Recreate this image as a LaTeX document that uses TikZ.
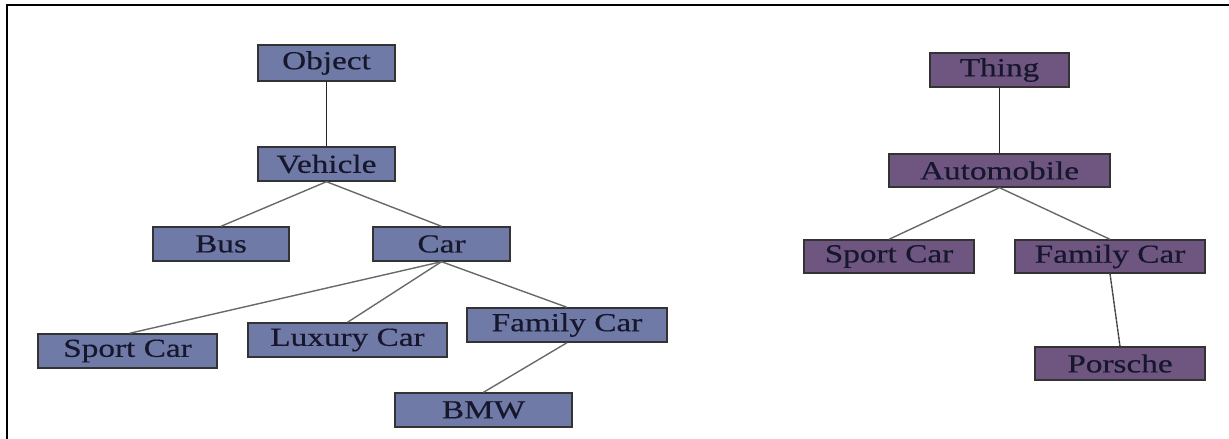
\documentclass[tikz,border=0pt]{standalone}
\usepackage{fontspec}
\setmainfont{Liberation Serif}
\newfontfamily\boxfont[FakeBold=0.35]{Liberation Serif}
\usepackage{graphicx}
\definecolor{slateblue}{RGB}{112,122,166}
\definecolor{plum}{RGB}{110,86,128}
\definecolor{inkdark}{RGB}{22,22,45}
\definecolor{edgegray}{RGB}{105,105,105}
\newcommand{\wide}[1]{\raisebox{-2pt}{\scalebox{1.28}[1]{#1}}}
\tikzset{
  box/.style={draw=black!80, line width=1.4pt, text=inkdark, inner sep=0pt,
    minimum height=34pt, font=\boxfont\fontsize{26}{30}\selectfont},
  bluebox/.style={box, fill=slateblue},
  plumbox/.style={box, fill=plum},
  link/.style={draw=edgegray, line width=1.4pt},
  trunk/.style={draw=black!85, line width=1.8pt},
  frame/.style={draw=black, line width=2pt}
}
\begin{document}
\begin{tikzpicture}[x=1pt,y=-1pt]
\useasboundingbox (0,0) rectangle (1229,439);
% outer frame: top and left sides only
\coordinate (fa) at (7,5);
\coordinate (fb) at (1229,5);
\coordinate (fc) at (7,439);
\draw[frame] (fb) -- (fa) -- (fc);

% left hierarchy
\node[bluebox, minimum width=137pt, minimum height=36pt] (object) at (326.5,63) {\wide{Object}};
\node[bluebox, minimum width=137pt] (vehicle) at (326.5,164) {\wide{Vehicle}};
\node[bluebox, minimum width=136pt] (bus) at (221,244) {\wide{Bus}};
\node[bluebox, minimum width=137pt] (car) at (441.5,244) {\wide{Car}};
\node[bluebox, minimum width=179pt] (sportl) at (127.5,351) {\wide{Sport Car}};
\node[bluebox, minimum width=199pt] (luxury) at (347.5,340) {\wide{Luxury Car}};
\node[bluebox, minimum width=200pt] (familyl) at (567,325) {\wide{Family Car}};
\node[bluebox, minimum width=177pt] (bmw) at (483.5,410) {\wide{BMW}};

\draw[trunk] (object.south) -- (vehicle.north);
\draw[link] (vehicle.south) -- (bus.north);
\draw[link] (vehicle.south) -- (car.north);
\draw[link] (car.south) -- ([xshift=2pt]sportl.north);
\draw[link] (car.south) -- (luxury.north);
\draw[link] (car.south) -- (familyl.north);
\draw[link] (familyl.south) -- (bmw.north);

% right hierarchy
\node[plumbox, minimum width=139pt] (thing) at (999.5,70) {\wide{Thing}};
\node[plumbox, minimum width=221pt, minimum height=33pt] (automobile) at (999.5,170.5) {\wide{Automobile}};
\node[plumbox, minimum width=170pt, minimum height=33pt] (sportr) at (889,256.5) {\wide{Sport Car}};
\node[plumbox, minimum width=190pt, minimum height=33pt] (familyr) at (1110,256.5) {\wide{Family Car}};
\node[plumbox, minimum width=170pt, minimum height=33pt] (porsche) at (1120,363.5) {\wide{Porsche}};

\draw[trunk] (thing.south) -- (automobile.north);
\draw[link] (automobile.south) -- (sportr.north);
\draw[link] (automobile.south) -- (familyr.north);
\draw[link] (familyr.south) -- (porsche.north);
\draw[black!85, line width=0.8pt, dash pattern=on 2pt off 2pt] (familyr.south) -- (porsche.north);
\end{tikzpicture}
\end{document}
